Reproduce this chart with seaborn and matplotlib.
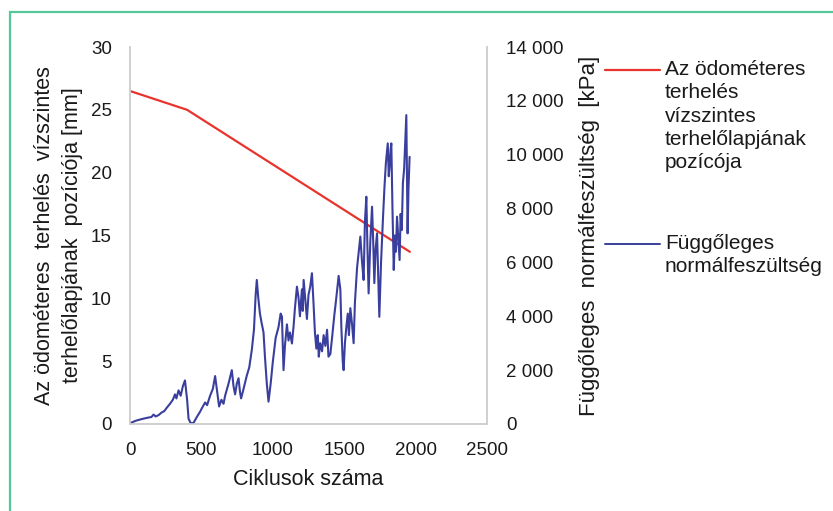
import pandas as pd
import seaborn as sns
import matplotlib
matplotlib.use("Agg")
from matplotlib import pyplot as plt
from matplotlib.ticker import FuncFormatter, MultipleLocator
from matplotlib.lines import Line2D
from matplotlib.patches import Rectangle

# Adatok
red_cycles = [0, 400, 1960]
red_pos_mm = [26.5, 25.0, 13.7]

blue_cycles = [0, 40, 80, 120, 150, 165, 180, 200, 220, 240, 260, 280, 300, 315, 325, 340,
               355, 370, 385, 400, 410, 425, 445, 467, 490, 510, 526, 540, 561, 580, 596,
               610, 624, 640, 655, 666, 690, 713, 725, 736, 748, 760, 770, 778, 795, 818,
               835, 853, 868, 880, 888, 898, 910, 920, 935, 945, 958, 970, 985, 1000, 1020,
               1040, 1055, 1064, 1075, 1085, 1099, 1110, 1120, 1134, 1145, 1155, 1169, 1180,
               1190, 1204, 1210, 1216, 1228, 1239, 1250, 1262, 1274, 1285, 1295, 1305, 1315,
               1322, 1332, 1345, 1356, 1368, 1380, 1390, 1403, 1415, 1430, 1445, 1461, 1473,
               1480, 1490, 1496, 1505, 1515, 1525, 1533, 1543, 1555, 1566, 1575, 1590, 1600,
               1613, 1625, 1636, 1645, 1655, 1663, 1671, 1683, 1695, 1703, 1711, 1720, 1730,
               1738, 1746, 1758, 1772, 1782, 1792, 1805, 1812, 1818, 1825, 1830, 1838, 1847,
               1855, 1862, 1870, 1878, 1888, 1895, 1903, 1911, 1920, 1928, 1935, 1940, 1944,
               1950, 1958]
blue_kpa = [30, 120, 180, 230, 260, 350, 280, 330, 420, 480, 620, 750, 900, 1100, 950, 1250,
            1050, 1400, 1620, 900, 200, 30, 40, 250, 450, 650, 800, 700, 1050, 1300, 1780,
            1200, 650, 900, 750, 1050, 1500, 2000, 1400, 1100, 1500, 1700, 1200, 950, 1300, 1800,
            2100, 2750, 3500, 4800, 5350, 4700, 4100, 3800, 3400, 2500, 1500, 830, 1500, 2300, 3200,
            3600, 4100, 3990, 2000, 2900, 3700, 3100, 3400, 2990, 3600, 4300, 5100, 4700,
            4000, 5000, 4200, 5350, 4600, 3900, 4800, 5100, 5600, 4500, 3400, 2800, 3300,
            2500, 3000, 2700, 3300, 2900, 3500, 2500, 2600, 3200, 4000, 4700, 5500, 5000,
            3600, 2300, 2000, 3000, 3600, 4100, 3300, 4300, 3700, 3000, 4500, 5800, 6300,
            6960, 6000, 5350, 7500, 8440, 6500, 4850, 6800, 8070, 6800, 5230, 6500, 7080,
            5500, 3980, 6000, 7700, 8800, 9700, 10420, 9200, 9570, 10200, 10420, 8000, 5720,
            7000, 6400, 7700, 7000, 6090, 7800, 7200, 8940, 9500, 10500, 11470, 9000, 7080,
            8700, 9920]

red_label = "Az ödométeres\nterhelés\nvízszintes\nterhelőlapjának\npozícója"
blue_label = "Függőleges\nnormálfeszültség"

df_red = pd.DataFrame({"ciklus": red_cycles, "poz": red_pos_mm})
df_blue = pd.DataFrame({"ciklus": blue_cycles, "kpa": blue_kpa})

sns.set_theme(style="white")
plt.rcParams["font.family"] = ["Liberation Sans", "DejaVu Sans"]

RED = "#e8342c"
BLUE = "#3a3f9e"
GREY = "#cfcfcf"
TXT = "#1a1a1a"

fig = plt.figure(figsize=(8.33, 5.11), dpi=100)
ax = fig.add_axes([130 / 833, 1 - 424 / 511, (487 - 130) / 833, (424 - 47) / 511])
ax2 = ax.twinx()

sns.lineplot(data=df_red, x="ciklus", y="poz", ax=ax, color=RED, linewidth=1.6)
sns.lineplot(data=df_blue, x="ciklus", y="kpa", ax=ax2, color=BLUE, linewidth=1.5)

ax.set_xlim(0, 2500)
ax.set_ylim(0, 30)
ax2.set_ylim(0, 14000)
ax.xaxis.set_major_locator(MultipleLocator(500))
ax.yaxis.set_major_locator(MultipleLocator(5))
ax2.yaxis.set_major_locator(MultipleLocator(2000))
ax2.yaxis.set_major_formatter(FuncFormatter(lambda v, p: f"{int(v):,}".replace(",", " ")))

for a in (ax, ax2):
    a.spines["top"].set_visible(False)
    for s in ("left", "right", "bottom"):
        a.spines[s].set_color(GREY)
        a.spines[s].set_linewidth(1.2)
    a.tick_params(length=0, labelsize=13.5, colors=TXT)
ax.tick_params(axis="x", pad=13)
ax.tick_params(axis="y", pad=13)
ax2.tick_params(axis="y", pad=14)

ax.set_xlabel("Ciklusok száma", fontsize=15.5, color=TXT, labelpad=7)
ax.set_ylabel("Az ödométeres  terhelés  vízszintes\nterhelőlapjának  pozíciója [mm]",
              fontsize=15.5, color=TXT, linespacing=1.42, labelpad=6)
ax2.set_ylabel("Függőleges  normálfeszültség  [kPa]", fontsize=16, color=TXT, labelpad=11)

# Jelmagyarázat kézzel (a vonal az első sorhoz igazodik)
def fy(py):
    return 1 - py / 511

fig.add_artist(Line2D([605 / 833, 660 / 833], [fy(70), fy(70)], color=RED, linewidth=1.6))
fig.text(665 / 833, fy(60), red_label, fontsize=15, va="top", ha="left",
         linespacing=1.29, color=TXT)
fig.add_artist(Line2D([605 / 833, 660 / 833], [fy(244), fy(244)], color=BLUE, linewidth=1.4))
fig.text(665 / 833, fy(234), blue_label, fontsize=15, va="top", ha="left",
         linespacing=1.29, color=TXT)

# Zöld keret
fig.add_artist(Rectangle((10 / 833, -0.1), 1.2, 1 - 12 / 511 + 0.1, transform=fig.transFigure,
                         fill=False, edgecolor="#55c89a", linewidth=1.6))

fig.savefig("out.png", dpi=100)
